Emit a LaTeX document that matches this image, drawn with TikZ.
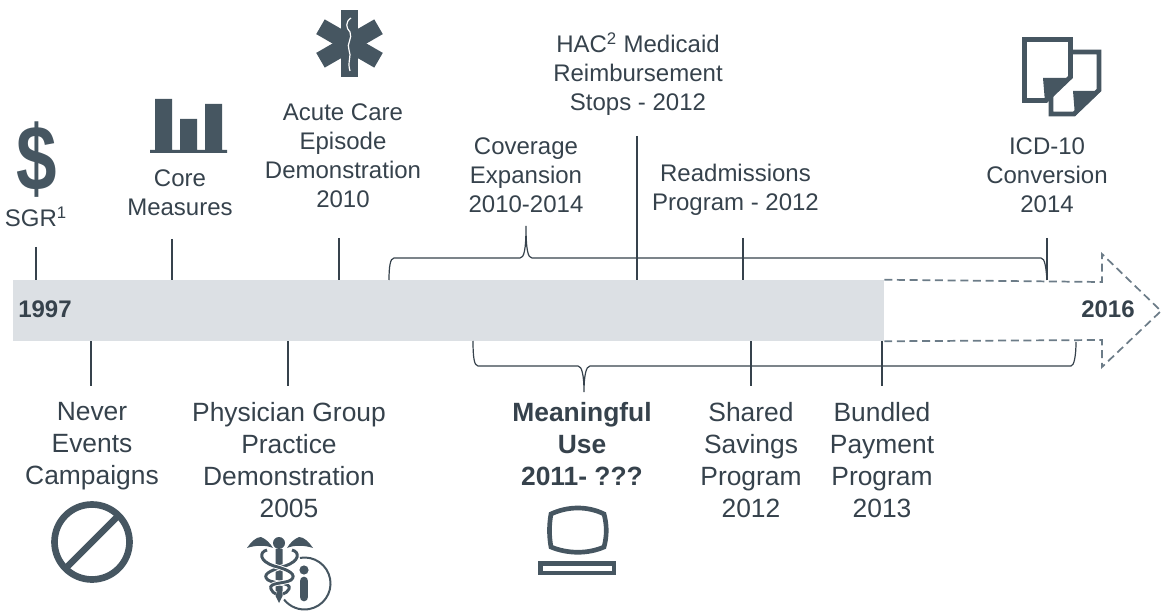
\documentclass[tikz,border=0pt]{standalone}
\usepackage{fontspec}
\setmainfont{Liberation Sans}
\usepackage{xcolor}
\usetikzlibrary{positioning}
\definecolor{labelgrey}{HTML}{36424C}
\definecolor{icongrey}{HTML}{465661}
\definecolor{bargrey}{HTML}{DCE0E4}
\definecolor{dashgrey}{HTML}{6C7C88}

\begin{document}
\begin{tikzpicture}[x=0.75pt, y=-0.75pt]
	\tikzstyle{up} = [align=center, text=labelgrey, inner sep=0pt, font=\fontsize{18}{21.8}\selectfont]
	\tikzstyle{down} = [align=center, text=labelgrey, inner sep=0pt, font=\fontsize{19.8}{24}\selectfont]
	\tikzstyle{year} = [text=labelgrey, inner sep=0pt, font=\fontsize{18}{22}\selectfont\bfseries]
	\tikzstyle{line} = [draw=labelgrey, line width=0.9pt]
	\tikzstyle{icon} = [fill=icongrey, draw=none]
	\tikzstyle{iconline} = [draw=icongrey, line width=3.5pt]
	\tikzstyle{snake} = [draw=icongrey, line width=2.2pt, preaction={draw=white, line width=3.6pt}]
	\useasboundingbox (0,0) rectangle (1164,616);
	
	\node [fill=bargrey, minimum width=653.25pt, minimum height=45.75pt, inner sep=0pt] (bar) at (448.5,310.5) {};
	\node [year, anchor=west] (start) at (18,309) {1997};
	\node [year, anchor=west] (end) at (1081,309) {2016};
	
	\node [up] (sgr) at (36,217) {SGR\textsuperscript{1}};
	\node [up] (core) at (180,192.5) {Core\\Measures};
	\node [up] (acute) at (343,156) {Acute Care\\Episode\\Demonstration\\2010};
	\node [up] (coverage) at (526,175) {Coverage\\Expansion\\2010-2014};
	\node [up] (hac) at (638,74) {HAC\textsuperscript{2} Medicaid\\Reimbursement\\Stops - 2012};
	\node [up] (readmissions) at (735.5,189.5) {Readmissions\\Program - 2012};
	\node [up] (icd) at (1047,175) {ICD-10\\Conversion\\2014};
	
	\node [down] (never) at (92,446) {Never\\Events\\Campaigns};
	\node [down] (physician) at (289,460) {Physician Group\\Practice\\Demonstration\\2005};
	\node [down, font=\fontsize{19.8}{24}\selectfont\bfseries] (meaningful) at (582,444.5) {Meaningful\\Use\\2011- ???};
	\node [down] (shared) at (751,460) {Shared\\Savings\\Program\\2012};
	\node [down] (bundled) at (882,460) {Bundled\\Payment\\Program\\2013};
	
	\coordinate (sgrtop) at (36,247);
	\coordinate (coretop) at (172,239);
	\coordinate (acutetop) at (339,238);
	\coordinate (hactop) at (637,136);
	\coordinate (readtop) at (743,238);
	\coordinate (icdtop) at (1047,238);
	\coordinate (neverend) at (91,386);
	\coordinate (physend) at (288,386);
	\coordinate (sharedend) at (751,386);
	\coordinate (bundledend) at (882,386);
	
	\path [line] (sgrtop) -- (sgrtop |- bar.north);
	\path [line] (coretop) -- (coretop |- bar.north);
	\path [line] (acutetop) -- (acutetop |- bar.north);
	\path [line] (hactop) -- (hactop |- bar.north);
	\path [line] (readtop) -- (readtop |- bar.north);
	\path [line] (icdtop) -- (icdtop |- bar.north);
	\path [line] (neverend) -- (neverend |- bar.south);
	\path [line] (physend) -- (physend |- bar.south);
	\path [line] (sharedend) -- (sharedend |- bar.south);
	\path [line] (bundledend) -- (bundledend |- bar.south);
	
	\coordinate (covtip) at (526,226);
	\coordinate (usetip) at (584,392);
	\path [line] (389,280) .. controls (389,268) and (390,258) .. (394,258) -- (520,258) .. controls (524,258) and (526,250) .. (covtip) .. controls (526,250) and (528,258) .. (532,258) -- (1041,258) .. controls (1045,258) and (1046,268) .. (1047,280);
	\path [line] (473,341) .. controls (473,356) and (474,366) .. (478,366) -- (578,366) .. controls (582,366) and (584,376) .. (usetip) .. controls (584,376) and (586,366) .. (590,366) -- (1071,366) .. controls (1074,366) and (1076,356) .. (1076,342);
	
	\coordinate (headtop) at (1102,254);
	\coordinate (headtip) at (1161,311);
	\coordinate (headlow) at (1102,367);
	\path [draw=dashgrey, line width=1.3pt, dash pattern=on 6pt off 3.5pt] (bar.north east) -- (1102,282) -- (headtop) -- (headtip) -- (headlow) -- (1102,340) -- (bar.south east);
	
	\node [text=icongrey, inner sep=0pt, xscale=0.88, yscale=1.12, font=\fontsize{62}{62}\selectfont\bfseries] (dollar) at (37,160) {\$};
	
	\fill [icon] (155,99) rectangle (172,150) (180,119) rectangle (197,150) (205,104) rectangle (222,150) (150,150) rectangle (227,153);
	
	\fill [icon] (341,10) rectangle (358,77);
	\fill [icon, rotate around={60:(349.5,43.5)}] (341,10) rectangle (358,77);
	\fill [icon, rotate around={-60:(349.5,43.5)}] (341,10) rectangle (358,77);
	\draw [white, line width=0.9pt] (351,18) .. controls (345,22) and (346,28) .. (350,32) .. controls (353,38) and (346,44) .. (349,50) .. controls (352,56) and (347,62) .. (350,71);
	
	\draw [iconline, line width=5pt] (92,542) circle (37.5);
	\draw [iconline, line width=5pt] (67,567) -- (117,517);
	
	\fill [icon] (247,548) .. controls (251,542) and (256,537) .. (261,537) .. controls (266,539) and (270,543) .. (273,548) .. controls (266,545) and (256,545) .. (247,548);
	\fill [icon] (313,548) .. controls (309,542) and (304,537) .. (299,537) .. controls (294,539) and (290,543) .. (287,548) .. controls (294,545) and (304,545) .. (313,548);
	\fill [icon] (279,543) circle (6);
	\fill [icon] (275.5,549) -- (282.5,549) -- (282.5,596) -- (279,603) -- (275.5,596) -- cycle;
	\path [snake] (292,550) .. controls (300,552) and (300,561) .. (285,566) .. controls (268,571) and (262,575) .. (268,580) .. controls (274,584) and (292,582) .. (289,589) .. controls (288,592) and (285,593) .. (283,594);
	\path [snake] (267,550) .. controls (259,552) and (259,561) .. (274,566) .. controls (290,570) and (297,575) .. (291,580) .. controls (285,584) and (268,582) .. (271,589) .. controls (272,592) and (274,593) .. (276,594);
	\draw [icongrey, line width=1.5pt] (300,557.9) arc (-100:142:26);
	\fill [icon] (304,570) circle (4.6);
	\draw [icongrey, line width=6.5pt, line cap=round] (304,581) -- (304,597);
	
	\draw [iconline] (551,514) .. controls (568,506) and (588,506) .. (604,514) .. controls (607,525) and (607,536) .. (604,547) .. controls (588,554) and (568,554) .. (551,547) .. controls (549,536) and (549,525) .. (551,514) -- cycle;
	\draw [iconline] (540.5,563.5) rectangle (614,573);
	
	\draw [iconline] (1051,92) -- (1051,114) -- (1074,114) -- (1099,90) -- (1099,52) -- (1071,52);
	\fill [icon] (1073,91) -- (1101,91) -- (1075,116) -- cycle;
	\fill [white] (1024.5,39.5) rectangle (1070.5,78) (1024.5,78) rectangle (1043,100);
	\draw [iconline] (1070.5,39.5) -- (1024.5,39.5) -- (1024.5,100.5) -- (1046,100.5) -- (1070.5,77) -- cycle;
	\fill [icon] (1043,78) -- (1070,78) -- (1045,102) -- cycle;
\end{tikzpicture}
\end{document}
